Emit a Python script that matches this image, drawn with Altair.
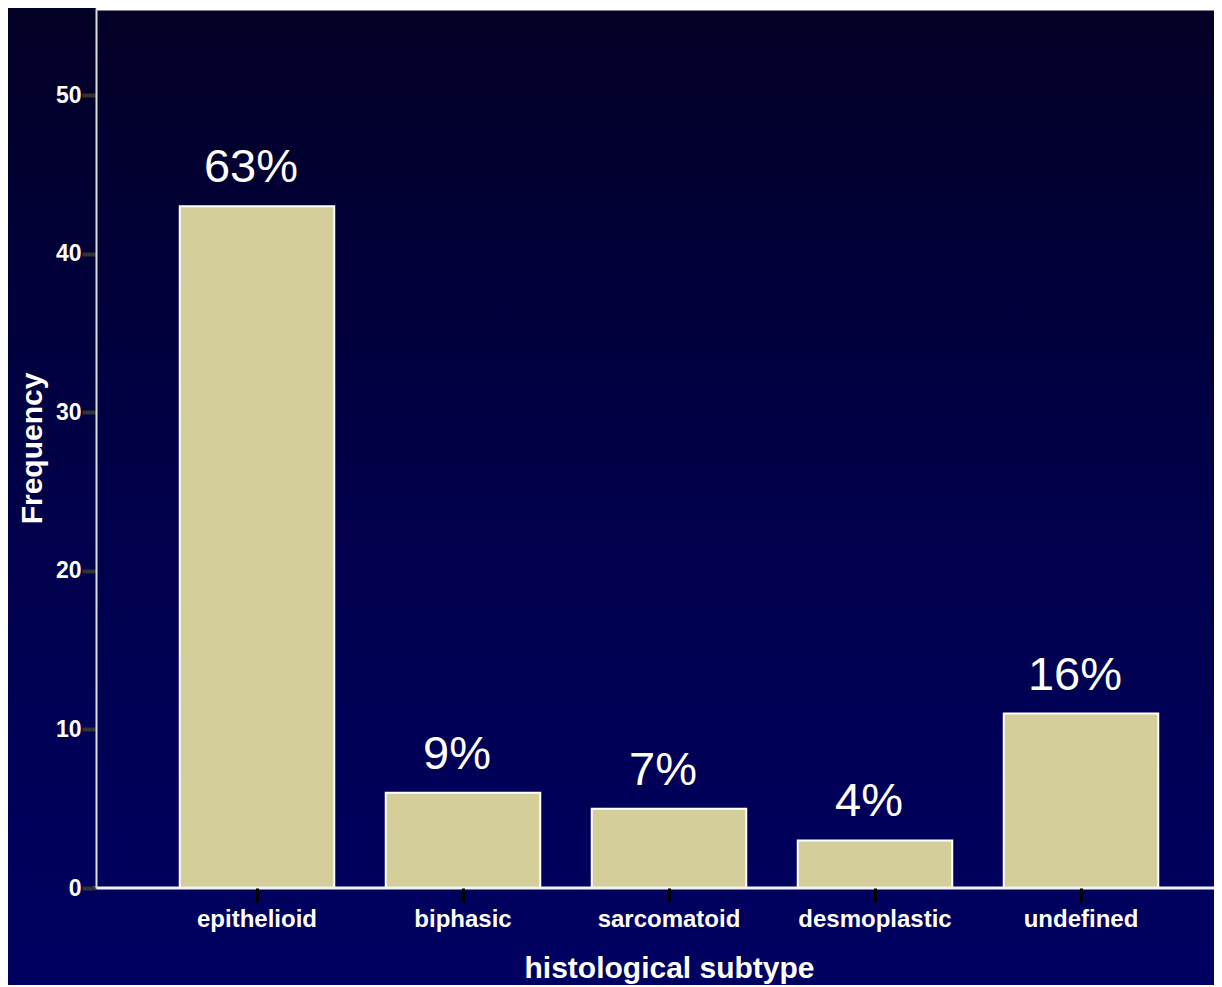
import altair as alt
import pandas as pd

categories = ["epithelioid", "biphasic", "sarcomatoid", "desmoplastic", "undefined"]
frequencies = [43, 6, 5, 3, 11]
percent_labels = ["63%", "9%", "7%", "4%", "16%"]

df = pd.DataFrame({"subtype": categories, "freq": frequencies, "pct": percent_labels})

W = 1118
H = 880
BOTTOM = 97
LEFT = 88

xscale = alt.Scale(domain=categories, range=[58, 1088], paddingInner=0.25, paddingOuter=0.125)
yscale = alt.Scale(domain=[0, 55.5], nice=False, zero=True)

bg = alt.Chart(pd.DataFrame({"a": [0]})).mark_rect(
    fill=alt.Gradient(
        gradient="linear",
        stops=[alt.GradientStop(color="#030025", offset=0),
               alt.GradientStop(color="#00004a", offset=0.5),
               alt.GradientStop(color="#000062", offset=1)],
        x1=0, x2=0, y1=0, y2=1,
    ),
    strokeWidth=0,
).encode(
    x=alt.value(-LEFT), x2=alt.value(W),
    y=alt.value(0), y2=alt.value(H + BOTTOM),
)

bars = alt.Chart(df).mark_bar(
    color="#d3ce9a", stroke="#ffffff", strokeWidth=2
).encode(
    x=alt.X("subtype:N", scale=xscale, sort=categories,
            axis=alt.Axis(title="histological subtype", labelAngle=0, zindex=2,
                          domain=False,
                          tickColor="#000000", tickSize=14, tickWidth=3,
                          labelColor="#ffffff", labelFont="Liberation Sans",
                          labelFontWeight="bold", labelFontSize=24, labelPadding=5,
                          titleColor="#ffffff", titleFont="Liberation Sans",
                          titleFontWeight="bold", titleFontSize=30, titlePadding=22)),
    y=alt.Y("freq:Q", scale=yscale,
            axis=alt.Axis(title="Frequency", values=[0, 10, 20, 30, 40, 50], grid=False,
                          zindex=2,
                          domainColor="#dddddd", domainWidth=2,
                          tickColor="#333333", tickSize=14, tickWidth=4,
                          labelColor="#ffffff", labelFont="Liberation Sans",
                          labelFontWeight="bold", labelFontSize=23, labelPadding=1,
                          titleColor="#ffffff", titleFont="Liberation Sans",
                          titleFontWeight="bold", titleFontSize=30, titlePadding=8)),
)

labels = alt.Chart(df).mark_text(
    color="#ffffff", font="Liberation Sans", fontSize=47, baseline="alphabetic",
    align="center", dy=-24, dx=-6,
).encode(
    x=alt.X("subtype:N", scale=xscale, sort=categories),
    y=alt.Y("freq:Q", scale=yscale),
    text="pct:N",
)

top_line = alt.Chart(pd.DataFrame({"a": [0]})).mark_rule(
    color="#ffffff", strokeWidth=3
).encode(x=alt.value(0), x2=alt.value(W), y=alt.value(1))

bottom_line = alt.Chart(pd.DataFrame({"a": [0]})).mark_rule(
    color="#f2f2f2", strokeWidth=3
).encode(x=alt.value(-3), x2=alt.value(W), y=alt.value(H))

chart = alt.layer(bg, bars, labels, top_line, bottom_line).properties(
    width=W, height=H,
    autosize=alt.AutoSizeParams(type="none"),
    padding={"left": LEFT, "top": 0, "right": 0, "bottom": BOTTOM},
    background="#000050",
).configure_view(stroke=None)

chart.save("out.html", embed_options={"renderer": "svg", "actions": False})
